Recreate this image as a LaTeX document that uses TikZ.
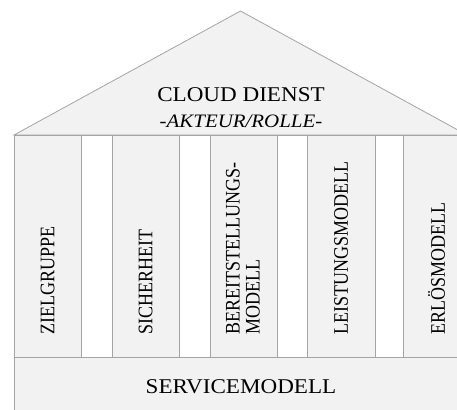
\documentclass[tikz,border=0pt]{standalone}
\usepackage{fontspec}
\usepackage{graphicx}
\setmainfont{Liberation Serif}
\definecolor{edge}{HTML}{A4A4A4}
\definecolor{panel}{HTML}{F2F2F2}
\tikzset{
  part/.style={draw=edge, line width=0.8pt, fill=panel},
  pillar/.style={part, minimum width=67pt, minimum height=222pt, inner sep=0pt, outer sep=0pt},
  gapbox/.style={draw=edge, line width=0.8pt, fill=white, minimum width=31pt, minimum height=222pt, inner sep=0pt, outer sep=0pt},
  pillartext/.style={rotate=90, anchor=west, inner sep=0pt, font=\fontsize{18}{22}\selectfont, align=left},
  headtext/.style={anchor=base, inner sep=0pt},
}
% wider letters, as set in the house drawing
\newcommand{\widetext}[1]{\scalebox{1.1}[1]{#1}}
\newcommand{\widerot}[1]{\scalebox{1}[1.15]{#1}}
\begin{document}
\begin{tikzpicture}[x=1pt, y=-1pt]
  \useasboundingbox (0,0) rectangle (457,409);
  \clip (0,0) rectangle (457,409);
  % roof
  \draw[part] (14,135) -- (240.5,11) -- (467,135) -- cycle;
  \node[headtext, font=\fontsize{21}{25}\selectfont] (title) at (241,101.7) {\widetext{CLOUD DIENST}};
  \node[headtext, font=\fontsize{19}{23}\selectfont\itshape] (role) at (241,127) {\widetext{-AKTEUR/ROLLE-}};
  % pillars and the gaps between them
  \node[gapbox] (g1) at (96.5,246) {};
  \node[gapbox] (g2) at (194.5,246) {};
  \node[gapbox] (g3) at (292,246) {};
  \node[gapbox] (g4) at (389,246) {};
  \node[pillar] (p1) at (47.5,246) {};
  \node[pillar] (p2) at (145.5,246) {};
  \node[pillar] (p3) at (243.5,246) {};
  \node[pillar, minimum width=68pt] (p4) at (341,246) {};
  \node[pillar] (p5) at (436.5,246) {};
  \node[pillartext] (t1) at (47.5,335) {\widerot{ZIELGRUPPE}};
  \node[pillartext] (t2) at (145.5,335) {\widerot{SICHERHEIT}};
  \node[pillartext] (t3) at (244.5,335) {\widerot{\begin{tabular}{@{}l@{}}BEREITSTELLUNGS-\\[-4.5pt]MODELL\end{tabular}}};
  \node[pillartext] (t4) at (341,335) {\widerot{LEISTUNGSMODELL}};
  \node[pillartext] (t5) at (436.5,335) {\widerot{ERLÖSMODELL}};
  % foundation
  \draw[part] (14,357) rectangle (467,420);
  \node[headtext, font=\fontsize{21}{25}\selectfont] (base) at (241,393) {\widetext{SERVICEMODELL}};
\end{tikzpicture}
\end{document}
